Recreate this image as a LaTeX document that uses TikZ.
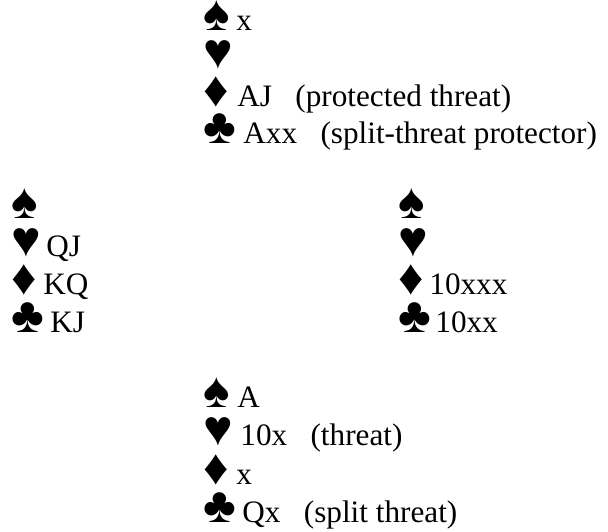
\documentclass[tikz,border=0pt]{standalone}
\usepackage{fontspec}
\setmainfont{Liberation Serif}
\newcommand\suitbox[1]{\makebox[11pt][l]{\scalebox{1.6}{#1}}}
\begin{document}
\begin{tikzpicture}[x=0.5pt,y=-0.5pt,
  txt/.style={anchor=base west,inner sep=0pt,font=\fontsize{15.6}{18}\selectfont},
  suit/.style={anchor=base west,inner sep=0pt,text height=11pt,text depth=0pt,font=\fontsize{15.6}{18}\selectfont}]
\useasboundingbox (0,0) rectangle (608,531);
% North
\node[suit] (ns) at (203,30.5) {\suitbox{♠}};
\node[txt]  (nst) at (236,30.5) {x};
\node[suit] (nh) at (203,68) {\suitbox{♥}};
\node[suit] (nd) at (203,106) {\suitbox{♦}};
\node[txt]  (ndt) at (237,106) {AJ~~~(protected threat)};
\node[suit] (nc) at (203,143.5) {\suitbox{♣}};
\node[txt]  (nct) at (243,143.5) {Axx~~~(split-threat protector)};
% West
\node[suit] (ws) at (11,218) {\suitbox{♠}};
\node[suit] (wh) at (11,256) {\suitbox{♥}};
\node[txt]  (wht) at (46,256) {QJ};
\node[suit] (wd) at (11,294) {\suitbox{♦}};
\node[txt]  (wdt) at (43,294) {KQ};
\node[suit] (wc) at (11,332) {\suitbox{♣}};
\node[txt]  (wct) at (50,332) {KJ};
% East
\node[suit] (es) at (398,218) {\suitbox{♠}};
\node[suit] (eh) at (398,256) {\suitbox{♥}};
\node[suit] (ed) at (398,294) {\suitbox{♦}};
\node[txt]  (edt) at (429,294) {10xxx};
\node[suit] (ec) at (398,332) {\suitbox{♣}};
\node[txt]  (ect) at (435,332) {10xx};
% South
\node[suit] (ss) at (203,407) {\suitbox{♠}};
\node[txt]  (sst) at (237,407) {A};
\node[suit] (sh) at (203,445) {\suitbox{♥}};
\node[txt]  (sht) at (240,445) {10x~~~(threat)};
\node[suit] (sd) at (203,484) {\suitbox{♦}};
\node[txt]  (sdt) at (236,484) {x};
\node[suit] (sc) at (203,522.5) {\suitbox{♣}};
\node[txt]  (sct) at (242,522.5) {Qx~~~(split threat)};
\end{tikzpicture}
\end{document}
